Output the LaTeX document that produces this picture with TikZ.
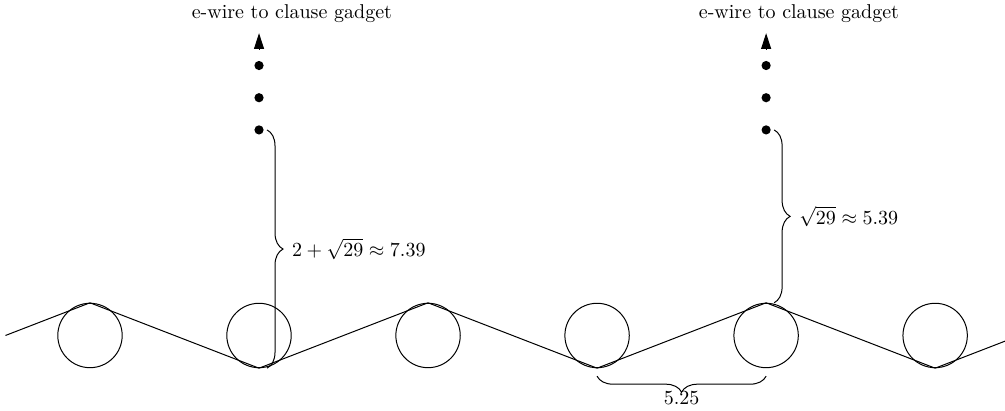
\documentclass[tikz,border=0pt]{standalone}
\usepackage{amsmath, amssymb}
\usepackage{tikz}
\usetikzlibrary{arrows.meta, decorations.pathreplacing, calc}
\tikzset{
  disc/.style ={draw, circle, minimum size=32.2pt, inner sep=0pt, line width=0.5pt},
  wire/.style ={line width=0.5pt},
  dotv/.style ={circle, fill, minimum size=4.6pt, inner sep=0pt},
  tipar/.style={-{Triangle[length=7.9pt, width=5pt]}, line width=0.5pt},
  brc/.style  ={decorate, decoration={brace, amplitude=8pt, raise=4pt}, line width=0.5pt},
  lab/.style  ={font=\normalsize},
}

\begin{document}
\begin{tikzpicture}[x=16.1pt, y=16.1pt]
  \useasboundingbox (-2.795,-2.345) rectangle (28.42,10.42);
  % gadget discs
  \node[disc] (c1) at (0,0) {};
  \node[disc] (c2) at (5.25,0) {};
  \node[disc] (c3) at (10.5,0) {};
  \node[disc] (c4) at (15.75,0) {};
  \node[disc] (c5) at (21,0) {};
  \node[disc] (c6) at (26.25,0) {};
  \coordinate (w0) at (-2.625,0);
  \coordinate (w7) at (28.875,0);
  \draw[wire] (w0) -- (c1.north) -- (c2.south) -- (c3.north) -- (c4.south) -- (c5.north) -- (c6.south) -- (w7);
  % left e-wire
  \node[dotv] (l1) at (5.25,6.385) {};
  \node[dotv] (l2) at (5.25,7.385) {};
  \node[dotv] (l3) at (5.25,8.385) {};
  \coordinate (la) at (5.25,8.9);
  \coordinate (lt) at (5.25,9.39);
  \draw[tipar] (la) -- (lt);
  \node[lab] (lw) at (6.27,10) {e-wire to clause gadget};
  \draw[brc] (l1.center) -- (c2.south) node[midway, right=13pt] {$2+\sqrt{29}\approx 7.39$};
  % right e-wire
  \node[dotv] (r1) at (21,6.385) {};
  \node[dotv] (r2) at (21,7.385) {};
  \node[dotv] (r3) at (21,8.385) {};
  \coordinate (ra) at (21,8.9);
  \coordinate (rt) at (21,9.39);
  \draw[tipar] (ra) -- (rt);
  \node[lab] (rw) at (22.02,10) {e-wire to clause gadget};
  \draw[brc] (r1.center) -- (c5.north) node[midway, right=13pt] {$\sqrt{29}\approx 5.39$};
  % spacing
  \draw[brc] (c5 |- c4.south) -- (c4.south) node[midway, below=8pt] {$5.25$};
\end{tikzpicture}
\end{document}
